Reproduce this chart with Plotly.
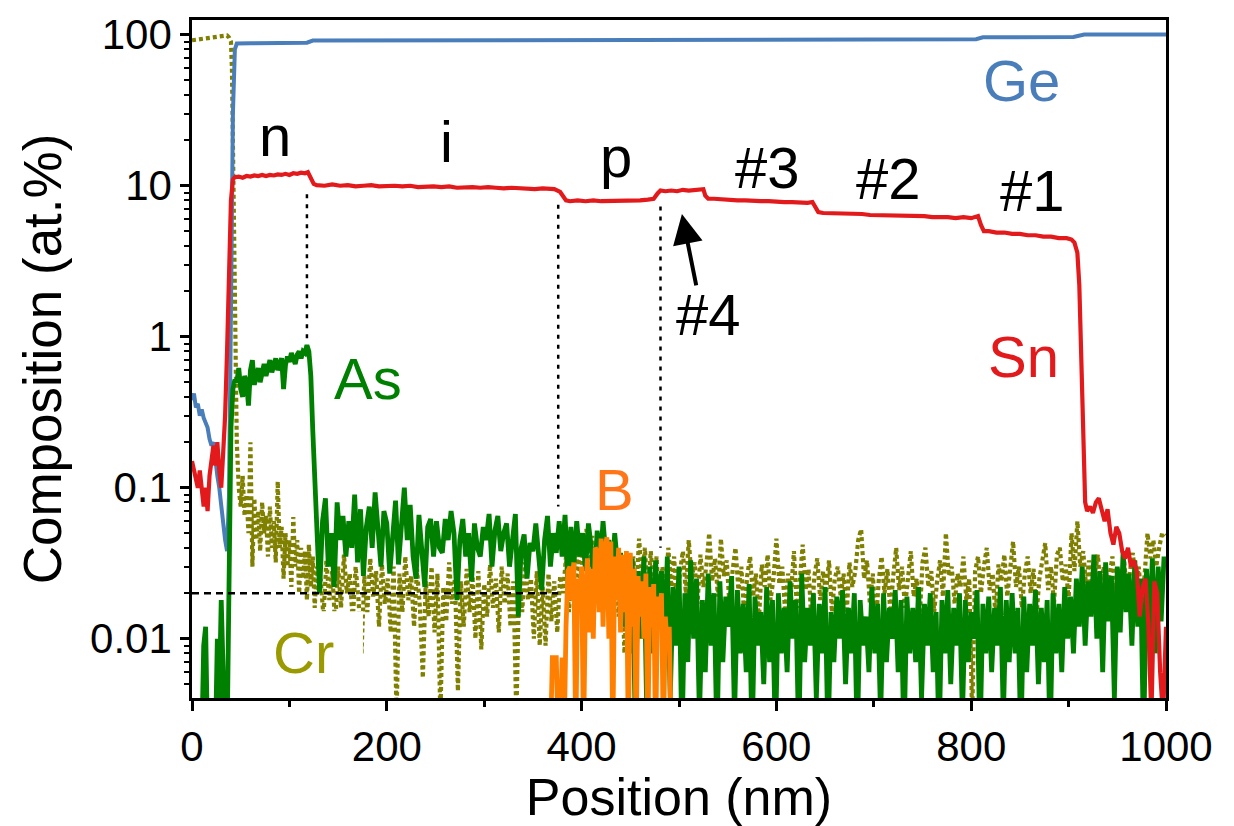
import numpy as np
import plotly.graph_objects as go

FONT = "Liberation Sans, Arial, sans-serif"

def seg(start, step, vals):
    return [start + step * i for i in range(len(vals))]

# ---------------- Ge (blue) ----------------
ge_x = [0, 2, 4, 6, 8, 10, 12, 14, 16, 18, 20, 22, 24, 26, 28, 30, 32, 34, 36, 38, 40, 42, 44, 46,
        60, 80, 100, 118, 124, 200, 300, 400, 500, 600, 700, 805, 812, 905, 916, 1000]
ge_y = [0.38, 0.42, 0.34, 0.36, 0.30, 0.33, 0.29, 0.27, 0.25, 0.21, 0.19, 0.20, 0.15, 0.12, 0.10,
        0.075, 0.06, 0.045, 0.038, 0.09, 1.5, 30, 80, 87.5,
        88, 88.5, 88.2, 88.6, 91.5, 91.8, 92, 92.3, 92.5, 93, 93.2, 93.5, 96.3, 96.6, 100.5, 100.5]

# ---------------- Sn (red) ----------------
sn_head = [0.15, 0.13, 0.12, 0.10, 0.13, 0.09, 0.075, 0.10, 0.07, 0.12, 0.16, 0.19, 0.14, 0.20,
           0.13, 0.10, 0.17, 0.30, 0.8, 2.5, 8, 11, 11.4]                       # 0..44, step 2
sn_n = [11.5, 11.3, 11.6, 11.5, 11.7, 11.6, 11.8, 11.6, 11.8, 11.7, 11.9, 11.8, 12.0, 11.8,
        12.1, 12.0, 12.2, 12.1]                                                  # 48..116, step 4
sn_k1_x, sn_k1_y = [119, 122, 125, 128], [12.3, 11.2, 10.3, 10.1]
sn_i = [10.0, 10.2, 10.0, 10.1, 9.9, 10.0, 10.1, 9.9, 10.0, 10.0, 9.9, 10.0, 9.8, 9.9, 9.9, 9.8,
        9.9, 9.7, 9.8, 9.8, 9.7, 9.8, 9.7, 9.6, 9.7, 9.6, 9.6, 9.5, 9.6]         # 136..360, step 8
sn_k2_x, sn_k2_y = [366, 372, 378, 381, 384], [9.5, 9.5, 9.1, 8.4, 8.0]
sn_p = [7.9, 8.0, 7.9, 8.0, 7.9, 7.9, 8.0, 7.9, 8.0, 8.0, 8.1]                  # 388..468, step 8
sn_k3_x, sn_k3_y = [474, 478, 481], [8.2, 8.9, 9.3]
sn_4 = [9.2, 9.3, 9.2, 9.4, 9.3, 9.4, 9.5]                                      # 486..522, step 6
sn_k4_x, sn_k4_y = [525, 527, 530], [9.5, 8.6, 8.2]
sn_3 = [8.2, 8.1, 8.1, 8.0, 8.0, 7.9, 7.9, 7.9, 7.8, 7.8, 7.8, 7.7, 7.7]        # 536..632, step 8
sn_k5_x, sn_k5_y = [637, 640, 643], [7.8, 7.1, 6.7]
sn_2 = [6.6, 6.6, 6.5, 6.6, 6.5, 6.5, 6.4, 6.4, 6.4, 6.3, 6.4, 6.3, 6.3, 6.3, 6.2, 6.2, 6.2,
        6.1, 6.2, 6.1]                                                           # 648..800, step 8
sn_k6_x, sn_k6_y = [805, 807, 810, 813], [6.2, 6.3, 5.5, 5.0]
sn_1 = [5.0, 4.9, 4.9, 4.8, 4.8, 4.7, 4.7, 4.6, 4.6, 4.5, 4.5]                  # 818..898, step 8
sn_k7_x, sn_k7_y = [903, 906, 909, 911, 913, 915, 917], [4.4, 4.2, 3.6, 2.2, 0.6, 0.15, 0.08]
sn_tail = [0.07, 0.075, 0.068, 0.08, 0.085, 0.07, 0.06, 0.072, 0.05, 0.042, 0.055, 0.05, 0.038,
           0.034, 0.04, 0.03, 0.033, 0.028, 0.014, 0.022, 0.025, 0.012, 0.003, 0.024, 0.02,
           0.006, 0.003, 0.012]                                                  # 919..1000, step 3

# ---------------- As (green) ----------------
as_head = [0.002, 0.002, 0.002, 0.002, 0.002, 0.002, 0.009, 0.012, 0.002, 0.002, 0.002, 0.002,
           0.002, 0.01, 0.004, 0.018, 0.002, 0.002, 0.002, 0.03, 0.25, 0.45, 0.52]  # 0..44, step 2
as_n = [0.5, 0.62, 0.45, 0.4, 0.55, 0.5, 0.35, 0.6, 0.7, 0.48, 0.55, 0.62, 0.5, 0.6, 0.66, 0.55,
        0.62, 0.7, 0.58, 0.64, 0.72, 0.6, 0.66, 0.72, 0.45, 0.65, 0.74, 0.68, 0.78, 0.7, 0.66,
        0.76, 0.8, 0.72, 0.8, 0.78, 0.88, 0.8]                                   # 46..120, step 2
as_k1_x, as_k1_y = [122, 124, 126, 128], [0.55, 0.24, 0.12, 0.05]
as_i = [0.02, 0.06, 0.085, 0.03, 0.05, 0.022, 0.08, 0.045, 0.065, 0.035, 0.06, 0.04, 0.09, 0.032,
        0.072, 0.026, 0.055, 0.075, 0.04, 0.093, 0.05, 0.03, 0.07, 0.058, 0.027, 0.05, 0.082,
        0.031, 0.06, 0.1, 0.045, 0.077, 0.035, 0.025, 0.066, 0.04, 0.022, 0.055, 0.062, 0.035,
        0.06, 0.04, 0.037, 0.062, 0.045, 0.07, 0.05, 0.018, 0.045, 0.062, 0.035, 0.05, 0.024,
        0.058, 0.04, 0.035, 0.055, 0.045, 0.067, 0.03, 0.052, 0.065, 0.038, 0.05, 0.058, 0.03,
        0.045, 0.067, 0.014, 0.04, 0.049, 0.025, 0.043, 0.038, 0.058, 0.035, 0.021, 0.045, 0.065,
        0.03, 0.05, 0.037, 0.06]                                                 # 131..377, step 3
as_b = [0.035, 0.066, 0.025, 0.055, 0.03, 0.06, 0.035, 0.05, 0.028, 0.058, 0.04, 0.022, 0.052,
        0.03, 0.06, 0.035, 0.045, 0.025, 0.05, 0.03, 0.037, 0.012, 0.03, 0.008, 0.034, 0.003,
        0.028, 0.01, 0.035, 0.003, 0.03, 0.008, 0.033, 0.012]                   # 380..479, step 3
as_tail = [
    0.028, 0.008, 0.035, 0.004, 0.022, 0.009, 0.03, 0.002, 0.02, 0.007, 0.033, 0.01, 0.025, 0.003,
    0.018, 0.006, 0.027, 0.009, 0.02, 0.002,
    0.024, 0.007, 0.019, 0.012, 0.026, 0.003, 0.021, 0.008, 0.017, 0.006, 0.023, 0.002, 0.019,
    0.009, 0.015, 0.005, 0.022, 0.007, 0.018, 0.002,
    0.02, 0.008, 0.016, 0.006, 0.024, 0.01, 0.018, 0.002, 0.027, 0.007, 0.016, 0.009, 0.02, 0.004,
    0.017, 0.008, 0.022, 0.002, 0.015, 0.007,
    0.019, 0.01, 0.021, 0.005, 0.016, 0.008, 0.02, 0.002, 0.018, 0.009, 0.014, 0.006, 0.022, 0.008,
    0.017, 0.003, 0.02, 0.007, 0.016, 0.01,
    0.021, 0.006, 0.018, 0.002, 0.019, 0.008, 0.016, 0.007, 0.022, 0.004, 0.017, 0.009, 0.02,
    0.006, 0.015, 0.002, 0.018, 0.008, 0.021, 0.005,
    0.016, 0.009, 0.02, 0.003, 0.018, 0.007, 0.015, 0.01, 0.021, 0.002, 0.017, 0.008, 0.019, 0.006,
    0.016, 0.009, 0.022, 0.003, 0.018, 0.007,
    0.02, 0.008, 0.016, 0.002, 0.019, 0.006, 0.017, 0.009, 0.021, 0.005, 0.016, 0.007, 0.018,
    0.002, 0.02, 0.008, 0.017, 0.006, 0.022, 0.01,
    0.019, 0.008, 0.025, 0.012, 0.03, 0.009, 0.024, 0.014, 0.036, 0.01, 0.028, 0.006, 0.032, 0.013,
    0.026, 0.004, 0.03, 0.011, 0.038, 0.015, 0.027, 0.009, 0.033, 0.012, 0.025, 0.002, 0.029,
    0.01, 0.034, 0.008, 0.03, 0.013, 0.035]                                      # 482..998, step 3

# ---------------- B (orange) ----------------
b_k_x, b_k_y = [168, 172, 176], [0.002, 0.0043, 0.002]
b_vals = [0.002, 0.0075, 0.0075, 0.0075, 0.002, 0.002, 0.0075, 0.002, 0.012, 0.028, 0.03, 0.018,
          0.032, 0.002, 0.025, 0.016, 0.03, 0.002, 0.02, 0.034, 0.011, 0.029, 0.01, 0.04, 0.038,
          0.015, 0.046, 0.012, 0.04, 0.047, 0.01, 0.044, 0.002, 0.035, 0.018, 0.04, 0.011, 0.036,
          0.015, 0.038, 0.002, 0.037, 0.012, 0.029, 0.002, 0.026, 0.014, 0.024, 0.01, 0.027, 0.002,
          0.022, 0.012, 0.023, 0.002, 0.019, 0.013, 0.02, 0.002, 0.014, 0.0085, 0.012, 0.002]  # 368..492, step 2

# ---------------- Cr (olive, dotted) ----------------
cr_head_x = [0, 6, 12, 18, 24, 30, 34, 36, 38, 40, 41, 42, 43, 44, 45, 46]
cr_head_y = [92, 93, 94, 95, 96, 97.5, 99, 99, 96, 90, 60, 25, 8, 2, 0.6, 0.2]
cr_n = [0.1, 0.075, 0.12, 0.065, 0.09, 0.05, 0.2, 0.03, 0.085, 0.045, 0.07, 0.038, 0.08, 0.05,
        0.065, 0.035, 0.075, 0.04, 0.06, 0.032, 0.11, 0.04, 0.055, 0.025, 0.05, 0.03, 0.045,
        0.022, 0.064, 0.03, 0.045, 0.02, 0.04, 0.025, 0.038, 0.018, 0.042, 0.022, 0.035, 0.016,
        0.03, 0.02]                                                              # 48..130, step 2
cr_i = [0.025, 0.014, 0.033, 0.018, 0.028, 0.012, 0.03, 0.016, 0.036, 0.02, 0.027, 0.013, 0.03,
        0.018, 0.008, 0.026, 0.015, 0.034, 0.019, 0.028, 0.012, 0.031, 0.017, 0.025, 0.011, 0.03,
        0.003, 0.027, 0.015, 0.035, 0.018, 0.026, 0.012, 0.029, 0.016, 0.0055, 0.024, 0.014, 0.03,
        0.011, 0.027, 0.003, 0.022, 0.013, 0.032, 0.017, 0.025, 0.0045, 0.024, 0.012, 0.029, 0.015,
        0.026, 0.01, 0.028, 0.0085, 0.023, 0.014, 0.031, 0.016, 0.025, 0.011, 0.03, 0.017, 0.027,
        0.012, 0.024, 0.003, 0.026, 0.015, 0.032, 0.018, 0.025, 0.01, 0.028, 0.009, 0.022, 0.009,
        0.027, 0.013, 0.024, 0.011, 0.026]                                       # 132..378, step 3
cr_b = [0.02, 0.035, 0.015, 0.03, 0.018, 0.04, 0.022, 0.045, 0.053, 0.025, 0.048, 0.02, 0.035,
        0.015, 0.03, 0.018, 0.033, 0.02, 0.028, 0.014, 0.03, 0.008, 0.025, 0.012, 0.035, 0.02,
        0.046, 0.025, 0.04, 0.018, 0.038, 0.022, 0.035, 0.015]                   # 381..480, step 3
cr_tail = [
    0.03, 0.018, 0.04, 0.022, 0.035, 0.015, 0.028, 0.038, 0.02, 0.045, 0.025, 0.032, 0.017, 0.036,
    0.022, 0.03, 0.05, 0.024, 0.034, 0.019,
    0.046, 0.026, 0.033, 0.016, 0.028, 0.04, 0.021, 0.03, 0.014, 0.026, 0.035, 0.019, 0.027,
    0.013, 0.031, 0.022, 0.036, 0.018, 0.025, 0.046,
    0.023, 0.03, 0.015, 0.027, 0.02, 0.038, 0.016, 0.024, 0.042, 0.021, 0.029, 0.013, 0.026,
    0.034, 0.018, 0.028, 0.02, 0.033, 0.015, 0.025,
    0.03, 0.019, 0.027, 0.014, 0.032, 0.022, 0.028, 0.045, 0.053, 0.025, 0.033, 0.017, 0.027,
    0.012, 0.024, 0.035, 0.02, 0.029, 0.015, 0.026,
    0.04, 0.021, 0.03, 0.016, 0.027, 0.038, 0.019, 0.025, 0.013, 0.032, 0.04, 0.022, 0.028,
    0.015, 0.024, 0.033, 0.019, 0.05, 0.026, 0.03,
    0.017, 0.027, 0.022, 0.035, 0.018, 0.025, 0.003, 0.028, 0.035, 0.02, 0.03, 0.04, 0.021,
    0.027, 0.014, 0.031, 0.024, 0.036, 0.019, 0.028,
    0.044, 0.022, 0.03, 0.016, 0.027, 0.035, 0.02, 0.029, 0.014, 0.025, 0.033, 0.043, 0.021,
    0.03, 0.017, 0.036, 0.04, 0.024, 0.031, 0.018,
    0.05, 0.028, 0.06, 0.03, 0.038, 0.022, 0.033, 0.018, 0.027, 0.036, 0.021, 0.03, 0.016,
    0.026, 0.035, 0.02, 0.029, 0.024, 0.033, 0.019, 0.028, 0.037, 0.022, 0.03, 0.017, 0.026,
    0.05, 0.034, 0.045, 0.03, 0.04, 0.05, 0.048]                                 # 483..999, step 3

# ---------------- guide lines & labels ----------------
guide_v_x = [118, 376, 481]
guide_v_top = [8.8, 7.5, 7.3]
guide_v_bot = [0.9, 0.075, 0.04]
guide_h_y = 0.02
guide_h_x = [0, 376]

labels = [  # text, x (nm), y (at.%), colour
    ("Ge", 852, 50, "#4a7ebb"),
    ("n", 85, 21.5, "black"),
    ("i", 261, 19.6, "black"),
    ("p", 435, 15.7, "black"),
    ("#3", 591, 13.3, "black"),
    ("#2", 715, 11.25, "black"),
    ("#1", 863, 9.24, "black"),
    ("#4", 530, 1.40, "black"),
    ("Sn", 854, 0.745, "#e31a1c"),
    ("As", 181, 0.527, "#008000"),
    ("B", 434, 0.0975, "#ff7518"),
    ("Cr", 114, 0.0081, "#9a9a00"),
]
arrow_tip = (503, 6.5)
arrow_tail = (518, 2.14)
cr_box_x = [75, 175.5]
cr_box_y = [0.0015, 0.0152]

# ---------------- assemble series ----------------
sn_x = (seg(0, 2, sn_head) + seg(48, 4, sn_n) + sn_k1_x + seg(136, 8, sn_i) + sn_k2_x
        + seg(388, 8, sn_p) + sn_k3_x + seg(486, 6, sn_4) + sn_k4_x + seg(536, 8, sn_3)
        + sn_k5_x + seg(648, 8, sn_2) + sn_k6_x + seg(818, 8, sn_1) + sn_k7_x + seg(919, 3, sn_tail))
sn_y = (sn_head + sn_n + sn_k1_y + sn_i + sn_k2_y + sn_p + sn_k3_y + sn_4 + sn_k4_y + sn_3
        + sn_k5_y + sn_2 + sn_k6_y + sn_1 + sn_k7_y + sn_tail)

as_x = (seg(0, 2, as_head) + seg(46, 2, as_n) + as_k1_x + seg(131, 3, as_i) + seg(380, 3, as_b)
        + seg(482, 3, as_tail))
as_y = as_head + as_n + as_k1_y + as_i + as_b + as_tail

b_x = b_k_x + seg(368, 2, b_vals)
b_y = b_k_y + b_vals

cr_x = cr_head_x + seg(48, 2, cr_n) + seg(132, 3, cr_i) + seg(381, 3, cr_b) + seg(483, 3, cr_tail)
cr_y = cr_head_y + cr_n + cr_i + cr_b + cr_tail

fig = go.Figure()
fig.add_trace(go.Scatter(x=cr_x, y=cr_y, mode="lines", name="Cr",
                         line=dict(color="#808000", width=4.2, dash="4px,3px")))
fig.add_trace(go.Scatter(x=ge_x, y=ge_y, mode="lines", name="Ge",
                         line=dict(color="#4a7ebb", width=4)))
fig.add_trace(go.Scatter(x=as_x, y=as_y, mode="lines", name="As",
                         line=dict(color="#008000", width=4.8)))
fig.add_trace(go.Scatter(x=b_x, y=b_y, mode="lines", name="B",
                         line=dict(color="#ff8000", width=4.8)))
fig.add_trace(go.Scatter(x=sn_x, y=sn_y, mode="lines", name="Sn",
                         line=dict(color="#e31a1c", width=4.2)))

for gx, gt, gb in zip(guide_v_x, guide_v_top, guide_v_bot):
    fig.add_trace(go.Scatter(x=[gx, gx], y=[gt, gb], mode="lines", hoverinfo="skip",
                             line=dict(color="black", width=2.5, dash="4px,6px")))
fig.add_trace(go.Scatter(x=guide_h_x, y=[guide_h_y, guide_h_y], mode="lines", hoverinfo="skip",
                         line=dict(color="black", width=2.5, dash="7px,5px")))

fig.add_shape(type="rect", xref="x", yref="y", x0=cr_box_x[0], x1=cr_box_x[1],
              y0=cr_box_y[0], y1=cr_box_y[1], fillcolor="white", line=dict(width=0), layer="above")

for txt, lx, ly, col in labels:
    fig.add_annotation(x=lx, y=np.log10(ly), xref="x", yref="y", text=txt, showarrow=False,
                       font=dict(family=FONT, size=58, color=col),
                       xanchor="center", yanchor="middle")

fig.add_annotation(x=arrow_tip[0], y=np.log10(arrow_tip[1]), xref="x", yref="y",
                   ax=arrow_tail[0], ay=np.log10(arrow_tail[1]), axref="x", ayref="y",
                   text="", showarrow=True, arrowhead=2, arrowsize=1.5, arrowwidth=4,
                   arrowcolor="black", standoff=0)

major_y = [0.01, 0.1, 1, 10, 100]
minor_y = [k * 10.0 ** d for d in range(-3, 3) for k in range(2, 10)]

fig.update_layout(
    width=1234, height=826,
    margin=dict(l=192, r=68, t=12, b=128),
    paper_bgcolor="white", plot_bgcolor="white",
    showlegend=False,
    font=dict(family=FONT, color="black"),
    xaxis=dict(range=[0, 1000], showline=True, linecolor="black", linewidth=2.5, mirror=True,
               ticks="outside", ticklen=10, tickwidth=2.5, tickcolor="black",
               tickvals=[0, 200, 400, 600, 800, 1000], showgrid=False, zeroline=False,
               tickfont=dict(size=42, family=FONT),
               minor=dict(tickvals=[100, 300, 500, 700, 900], ticks="outside", ticklen=6,
                          tickwidth=2.5, tickcolor="black", showgrid=False),
               title=dict(text="Position (nm)", font=dict(size=52, family=FONT), standoff=0)),
    yaxis=dict(type="log", range=[-2.393, 2.098], showline=True, linecolor="black", linewidth=2.5,
               mirror=True, ticks="outside", ticklen=9, tickwidth=2.5, tickcolor="black",
               tickvals=major_y, ticktext=["0.01", "0.1", "1", "10", "100"],
               showgrid=False, zeroline=False, tickfont=dict(size=42, family=FONT),
               minor=dict(tickvals=minor_y, ticks="outside", ticklen=5, tickwidth=2,
                          tickcolor="black", showgrid=False),
               title=dict(text="Composition (at.%)", font=dict(size=53, family=FONT), standoff=12)),
)

fig.write_html("out.html")
